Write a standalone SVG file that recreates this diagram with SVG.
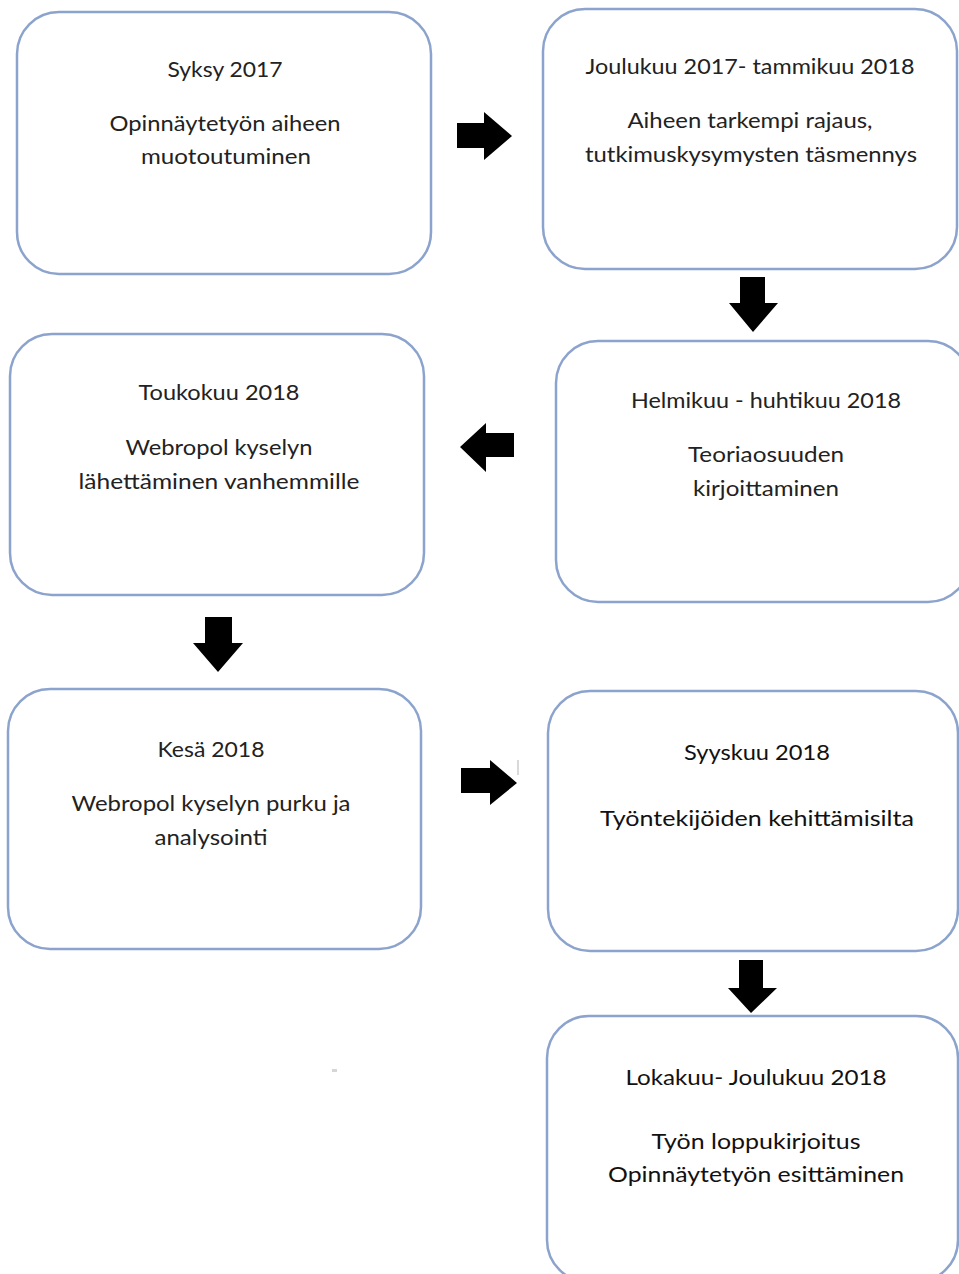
<svg xmlns="http://www.w3.org/2000/svg" width="959" height="1274" viewBox="0 0 959 1274">
<style>
.box{fill:#ffffff;stroke:#8ba3cd;stroke-width:2.5}
.t{font-family:Lato,"Open Sans","Liberation Sans",sans-serif;font-size:21px;fill:#222222;text-anchor:middle}
.t2{font-family:Lato,"Open Sans","Liberation Sans",sans-serif;font-size:22px;fill:#111111;text-anchor:middle}
.arr{fill:#000000}
</style>
<rect x="0" y="0" width="959" height="1274" fill="#ffffff"/>
<g id="node1">
<rect class="box" x="17" y="12" width="414" height="262" rx="42"/>
<text class="t" x="225" y="77" textLength="115" lengthAdjust="spacingAndGlyphs">Syksy 2017</text>
<text class="t" x="225" y="131" textLength="231" lengthAdjust="spacingAndGlyphs">Opinnäytetyön aiheen</text>
<text class="t" x="226" y="164" textLength="170" lengthAdjust="spacingAndGlyphs">muotoutuminen</text>
</g>
<g id="node2">
<rect class="box" x="543" y="9" width="414" height="260" rx="42"/>
<text class="t" x="750" y="74" textLength="329" lengthAdjust="spacingAndGlyphs">Joulukuu 2017- tammikuu 2018</text>
<text class="t" x="750" y="128" textLength="245" lengthAdjust="spacingAndGlyphs">Aiheen tarkempi rajaus,</text>
<text class="t" x="751" y="162" textLength="332" lengthAdjust="spacingAndGlyphs">tutkimuskysymysten täsmennys</text>
</g>
<g id="node3">
<rect class="box" x="556" y="341" width="414" height="261" rx="42"/>
<text class="t" x="766" y="408" textLength="270" lengthAdjust="spacingAndGlyphs">Helmikuu - huhtikuu 2018</text>
<text class="t" x="766" y="462" textLength="156" lengthAdjust="spacingAndGlyphs">Teoriaosuuden</text>
<text class="t" x="766" y="496" textLength="146" lengthAdjust="spacingAndGlyphs">kirjoittaminen</text>
</g>
<g id="node4">
<rect class="box" x="10" y="334" width="414" height="261" rx="42"/>
<text class="t" x="219" y="400" textLength="161" lengthAdjust="spacingAndGlyphs">Toukokuu 2018</text>
<text class="t" x="219" y="455" textLength="187" lengthAdjust="spacingAndGlyphs">Webropol kyselyn</text>
<text class="t" x="219" y="489" textLength="281" lengthAdjust="spacingAndGlyphs">lähettäminen vanhemmille</text>
</g>
<g id="node5">
<rect class="box" x="8" y="689" width="413" height="260" rx="42"/>
<text class="t" x="211" y="757" textLength="107" lengthAdjust="spacingAndGlyphs">Kesä 2018</text>
<text class="t" x="211" y="811" textLength="279" lengthAdjust="spacingAndGlyphs">Webropol kyselyn purku ja</text>
<text class="t" x="211" y="845" textLength="113" lengthAdjust="spacingAndGlyphs">analysointi</text>
</g>
<g id="node6">
<rect class="box" x="548" y="691" width="410" height="260" rx="42"/>
<text class="t2" x="757" y="760" textLength="146" lengthAdjust="spacingAndGlyphs">Syyskuu 2018</text>
<text class="t2" x="757" y="826" textLength="314" lengthAdjust="spacingAndGlyphs">Työntekijöiden kehittämisilta</text>
</g>
<g id="node7">
<rect class="box" x="547" y="1016" width="411" height="266" rx="42"/>
<text class="t2" x="756" y="1085" textLength="261" lengthAdjust="spacingAndGlyphs">Lokakuu- Joulukuu 2018</text>
<text class="t2" x="756" y="1149" textLength="209" lengthAdjust="spacingAndGlyphs">Työn loppukirjoitus</text>
<text class="t2" x="756" y="1182" textLength="296" lengthAdjust="spacingAndGlyphs">Opinnäytetyön esittäminen</text>
</g>
<g id="connectors">
<polygon class="arr" points="457,123 484,123 484,112 512,136 484,160 484,148 457,148"/>
<polygon class="arr" points="740,277 765,277 765,303 778,303 753,332 729,303 740,303"/>
<polygon class="arr" points="514,433 486,433 486,423 460,447 486,472 486,457 514,457"/>
<polygon class="arr" points="205,617 232,617 232,643 243,643 218,672 193,643 205,643"/>
<polygon class="arr" points="461,768 490,768 490,760 517,783 490,805 490,793 461,793"/>
<polygon class="arr" points="739,960 763,960 763,988 777,988 751,1013 728,988 739,988"/>
<line x1="518" y1="760" x2="518" y2="775" stroke="#cccccc" stroke-width="1.5"/>
</g>
<rect x="332" y="1069" width="5" height="3" fill="#bbbbbb" opacity="0.6"/>
</svg>
